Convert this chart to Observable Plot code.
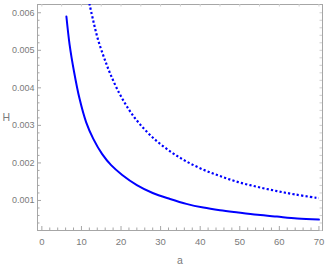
<!DOCTYPE html>
<html><head><meta charset="utf-8">
<script src="https://cdn.jsdelivr.net/npm/d3@7"></script>
<script src="https://cdn.jsdelivr.net/npm/@observablehq/plot@0.6"></script>
<style>body{margin:0;background:#fff}</style>
</head><body><div id="chart"></div>
<script>
const solidA = [6.2, 7.0, 8.1, 9.5, 11.2, 13.0, 15.2, 17.5, 20.3, 24.0, 28.0, 32.4, 36.5, 40.8, 45.0, 49.6, 54.5, 59.4, 64.5, 70.0];
const solidH = [0.0059, 0.00516, 0.00445, 0.00372, 0.00308, 0.00264, 0.00224, 0.00194, 0.00168, 0.00141, 0.00120, 0.00104, 0.00091, 0.00081, 0.00074, 0.00068, 0.00062, 0.00057, 0.00052, 0.00049];
const dashA = [12.0, 13.0, 14.2, 15.8, 17.3, 19.5, 22.0, 24.7, 28.5, 32.8, 36.5, 40.8, 45.0, 49.6, 54.5, 59.4, 64.0, 70.0];
const dashH = [0.00625, 0.00578, 0.00528, 0.00478, 0.00437, 0.00387, 0.00342, 0.00304, 0.00263, 0.00228, 0.00204, 0.00182, 0.00165, 0.00149, 0.00136, 0.00125, 0.00116, 0.00106];
const xTicks = [0, 10, 20, 30, 40, 50, 60, 70];
const yTicks = [0.001, 0.002, 0.003, 0.004, 0.005, 0.006];
const yTickLabels = ["0.001", "0.002", "0.003", "0.004", "0.005", "0.006"];

const solid = solidA.map((a, i) => ({a, H: solidH[i]}));
const dashed = dashA.map((a, i) => ({a, H: dashH[i]}));
const xMinor = d3.range(0, 71, 2).filter(v => v % 10 !== 0);
const yMinor = d3.range(2, 62, 2).filter(v => v % 10 !== 0).map(v => v / 10000);
const topTicks = d3.range(0, 71, 5);
const rightTicks = d3.range(2, 62, 2).map(v => v / 10000);

const W = 327, Hh = 273, mt = 4, mb = 43, ml = 37, mr = 5;
const ph = Hh - mt - mb, pw = W - ml - mr;
const gray = "#a6a6a6";
const font = "'Liberation Sans', Arial, sans-serif";

const chart = Plot.plot({
  width: W, height: Hh,
  marginTop: mt, marginBottom: mb, marginLeft: ml, marginRight: mr,
  style: {fontFamily: font, fontSize: "9px", background: "#fff"},
  x: {domain: [-1.1, 70.9], label: null},
  y: {domain: [0.0002, 0.00622], label: null},
  marks: [
    Plot.frame({stroke: gray}),
    Plot.tickX(xTicks, {x: d => d, insetTop: ph - 4, stroke: gray}),
    Plot.tickX(xMinor, {x: d => d, insetTop: ph - 2.5, stroke: gray}),
    Plot.tickX(topTicks, {x: d => d, insetBottom: ph - 2.5, stroke: "#cfcfcf"}),
    Plot.tickY(yTicks, {y: d => d, insetRight: pw - 4, stroke: gray}),
    Plot.tickY(yMinor, {y: d => d, insetRight: pw - 2.5, stroke: gray}),
    Plot.tickY(rightTicks, {y: d => d, insetLeft: pw - 2.5, stroke: "#cfcfcf"}),
    Plot.axisX(xTicks, {tickSize: 0, tickPadding: 8, fill: "#7a7a7a", fontFamily: font, fontSize: 9.5}),
    Plot.axisY(yTicks, {tickSize: 0, tickPadding: 3, tickFormat: (d, i) => yTickLabels[i], fill: "#7a7a7a", fontFamily: font, fontSize: 9}),
    Plot.line(dashed, {x: "a", y: "H", stroke: "#0000ff", strokeWidth: 2.2, strokeDasharray: "2.2,2.2", strokeLinecap: "butt", curve: "catmull-rom", clip: true}),
    Plot.line(solid, {x: "a", y: "H", stroke: "#0000ff", strokeWidth: 2, curve: "catmull-rom", clip: true}),
    Plot.text(["a"], {frameAnchor: "bottom", dy: 33, fill: "#7a7a7a", fontFamily: font, fontSize: 10.5}),
    Plot.text(["H"], {frameAnchor: "left", dx: -35, textAnchor: "start", fill: "#7a7a7a", fontFamily: font, fontSize: 10.5})
  ]
});
document.getElementById("chart").appendChild(chart);
</script>
</body></html>
